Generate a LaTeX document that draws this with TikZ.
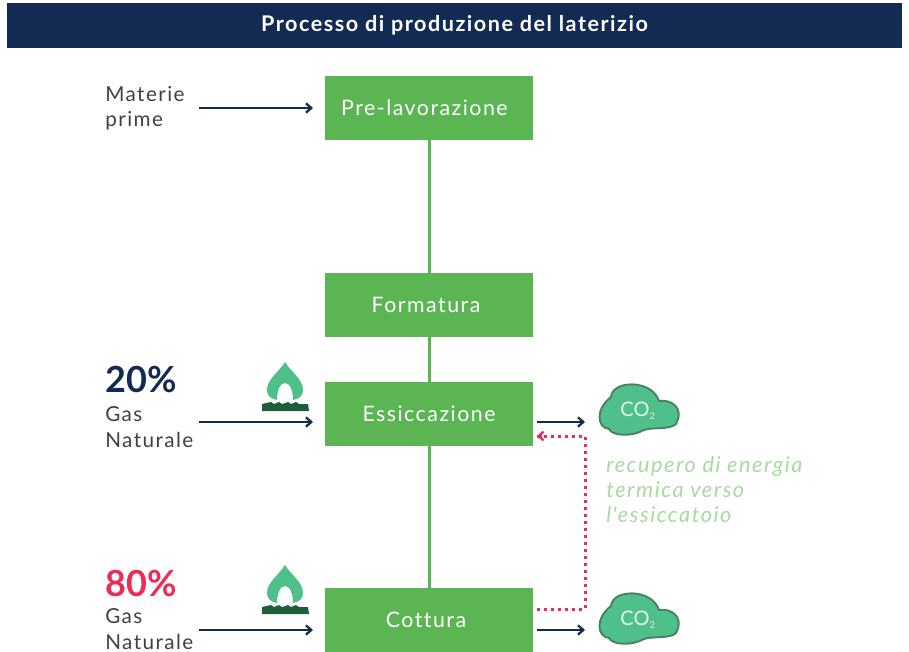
\documentclass[tikz,border=0pt]{standalone}
\usepackage{fontspec}
\setmainfont{Lato}
\newfontfamily\spacedfont[LetterSpace=7,Ligatures=NoCommon]{Lato}
\newfontfamily\headfont[LetterSpace=7,Ligatures=NoCommon]{Lato}
\usetikzlibrary{arrows.meta}
\definecolor{headblue}{HTML}{132B53}
\definecolor{boxgreen}{HTML}{5BB553}
\definecolor{alertred}{HTML}{EE2B55}
\definecolor{palegreen}{HTML}{A9D9A2}
\definecolor{flamegreen}{HTML}{4FBF8B}
\definecolor{darkgreen}{HTML}{1D5F3A}
\tikzset{
	stepbox/.style={fill=boxgreen, text=white, minimum width=156pt, minimum height=48pt, inner sep=0pt, font=\spacedfont\fontsize{16}{18}\selectfont},
	sidetext/.style={anchor=west, align=left, inner sep=0pt, text=black!75, font=\spacedfont\fontsize{15.5}{19}\selectfont},
	bigpct/.style={anchor=west, inner sep=0pt, font=\bfseries\fontsize{27}{30}\selectfont},
	feed/.style={headblue, line width=1.7pt, -{Straight Barb[length=4pt,width=7pt]}},
	link/.style={boxgreen, line width=2.25pt},
	recover/.style={alertred, line width=2.25pt, dash pattern=on 2.25pt off 3pt},
	co2cloud/.pic={
		\draw[fill=flamegreen, draw=darkgreen!80, line width=1.4pt] (-29,-13) .. controls (-28,-30) and (12,-31) .. (19,-9) .. controls (30,-11) and (45,-3) .. (36,14) .. controls (30,20) and (12,17) .. (4,20) .. controls (-8,27) and (-28,26) .. (-31,19) .. controls (-43,18) and (-45,-1) .. (-29,-13) -- cycle;
		\node[text=white!85!flamegreen, inner sep=0pt, font=\fontsize{15}{16}\selectfont] (-label) at (-2,1) {CO\textsubscript{\scriptsize 2}};
	},
	gasburner/.pic={
		\fill[flamegreen] (0,-25) .. controls (6,-15) and (18,-8) .. (18,3) .. controls (18,9) and (14,12) .. (8,13) .. controls (8,4) and (5,-4) .. (0,-4) .. controls (-5,-4) and (-8,4) .. (-8,13) .. controls (-14,12) and (-18,9) .. (-18,3) .. controls (-18,-8) and (-6,-15) .. (0,-25) -- cycle;
		\fill[darkgreen] (-23,24) -- (-23,17) -- (-14,15) -- (-11,17) -- (-6,15) -- (-3,17) -- (3,15) -- (6,17) -- (11,15) -- (14,17) -- (23,17) -- (24,24) -- cycle;
	}
}
\begin{document}
\begin{tikzpicture}[x=0.75pt, y=-0.75pt]
	\useasboundingbox (0,0) rectangle (909,652);

	\node[fill=headblue, text=white, minimum width=671.25pt, minimum height=33.75pt, inner sep=0pt, font=\headfont\bfseries\fontsize{16.2}{18}\selectfont] (title) at (454.5,25.5) {Processo di produzione del laterizio};

	\node[stepbox] (prelav) at (429,108) {Pre-lavorazione\kern 6.8pt};
	\node[stepbox] (formatura) at (429,305) {Formatura\kern 4.5pt};
	\node[stepbox] (essic) at (429,414) {Essiccazione};
	\node[stepbox] (cottura) at (429,620) {Cottura\kern 4.5pt};

	\draw[link] (prelav) -- (formatura);
	\draw[link] (formatura) -- (essic);
	\draw[link] (essic) -- (cottura);

	\node[sidetext] (materie) at (105,108.5) {Materie\\prime};
	\node[bigpct, text=headblue] (pctessic) at (105,380) {20\%};
	\node[sidetext] (gasessic) at (105,427) {Gas\\Naturale};
	\node[bigpct, text=alertred] (pctcottura) at (105,583) {80\%};
	\node[sidetext] (gascottura) at (105,629) {Gas\\Naturale};

	\coordinate (materiefrom) at (199,108);
	\coordinate (prelavto) at (313,108);
	\coordinate (gasessicfrom) at (199,422);
	\coordinate (essicto) at (313,422);
	\coordinate (gascotturafrom) at (199,630);
	\coordinate (cotturato) at (313,630);
	\coordinate (essicfrom) at (537,422);
	\coordinate (cloudessic) at (585,422);
	\coordinate (cotturafrom) at (537,630);
	\coordinate (cloudcottura) at (585,630);

	\draw[feed] (materiefrom) -- (prelavto);
	\draw[feed] (gasessicfrom) -- (essicto);
	\draw[feed] (gascotturafrom) -- (cotturato);
	\draw[feed] (essicfrom) -- (cloudessic);
	\draw[feed] (cotturafrom) -- (cloudcottura);

	% recupero
	\coordinate (redstart) at (537,609);
	\coordinate (redlow) at (585,609);
	\coordinate (redhigh) at (585,436);
	\coordinate (redend) at (537,436);
	\draw[recover] (redstart) -- (redlow) -- (redhigh) -- (redend);
	\draw[alertred, line width=1.8pt, {Straight Barb[length=3.5pt,width=6.5pt]}-] (redend) -- +(5,0);

	\pic (cloudone) at (640,410) {co2cloud};
	\pic (cloudtwo) at (640,619) {co2cloud};
	\pic (burnerone) at (285,387) {gasburner};
	\pic (burnertwo) at (285,590) {gasburner};

	\node[anchor=west, align=left, inner sep=0pt, text=palegreen, font=\spacedfont\itshape\fontsize{16.3}{18.75}\selectfont] (recupero) at (606,489.5) {recupero di energia\\termica verso\\l'essiccatoio};
\end{tikzpicture}
\end{document}
